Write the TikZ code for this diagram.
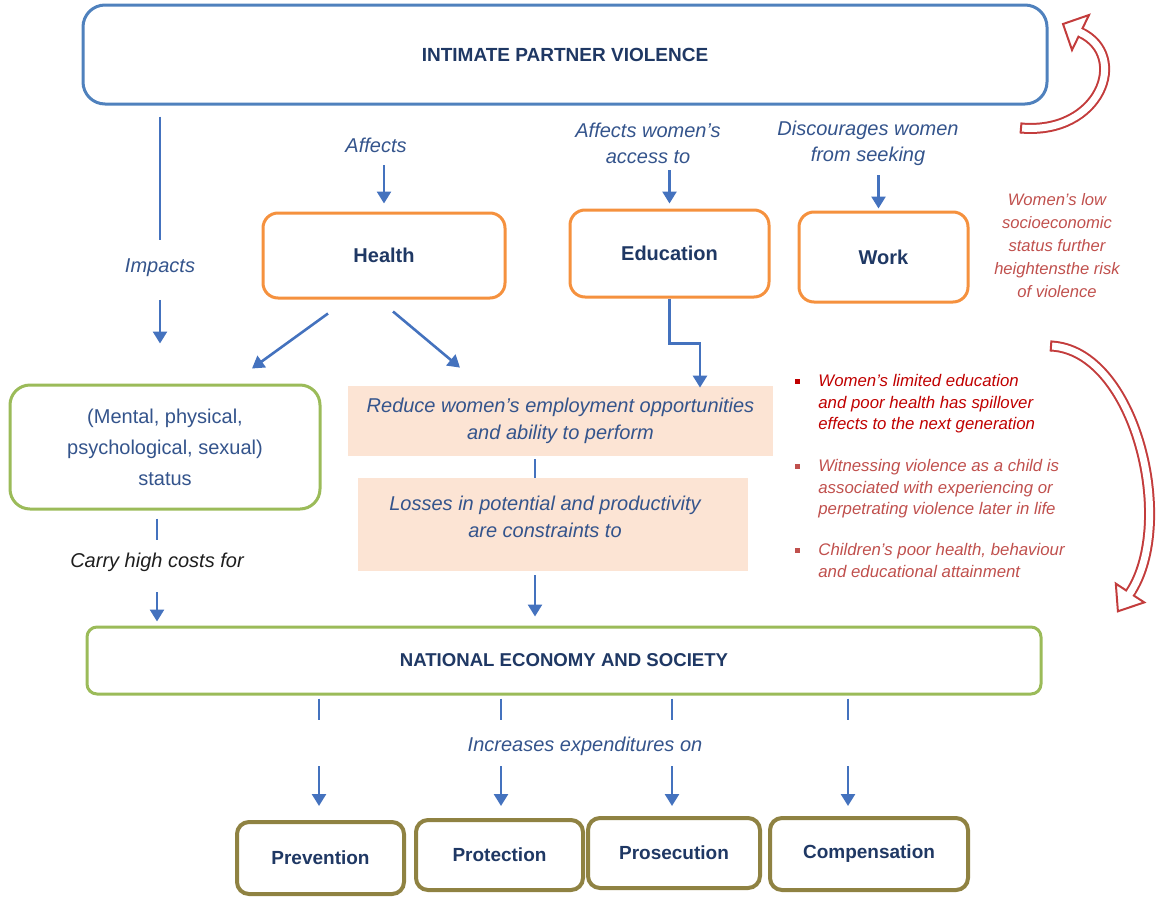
\documentclass[tikz,border=0pt]{standalone}
\usepackage{fontspec}
\setmainfont{Liberation Sans}
\usetikzlibrary{arrows.meta,calc}
\definecolor{ipvblue}{RGB}{79,129,189}
\definecolor{arrowblue}{RGB}{68,114,190}
\definecolor{navy}{RGB}{31,56,100}
\definecolor{lblblue}{RGB}{52,84,140}
\definecolor{boxorange}{RGB}{245,145,62}
\definecolor{boxgreen}{RGB}{155,187,89}
\definecolor{boxolive}{RGB}{143,130,66}
\definecolor{peach}{RGB}{252,228,212}
\definecolor{darkred}{RGB}{192,0,0}
\definecolor{ltred}{RGB}{192,80,77}
\definecolor{arrred}{RGB}{195,60,60}
\newcommand{\fsz}[2]{\fontsize{#1}{#2}\selectfont}
\begin{document}
\begin{tikzpicture}[x=0.5pt,y=-0.5pt,
  obox/.style={draw=boxorange, line width=1.5pt, rounded corners=7.5pt, fill=white,
    font=\fsz{10}{12}\bfseries, text=navy, inner sep=0pt},
  gbox/.style={draw=boxgreen, line width=1.5pt, fill=white, inner sep=0pt},
  pbox/.style={fill=peach, inner sep=0pt},
  ybox/.style={draw=boxolive, line width=2pt, rounded corners=6pt, fill=white,
    font=\fsz{9.5}{11}\bfseries, text=navy, inner sep=0pt},
  lbl/.style={font=\fsz{10}{13}\itshape, text=lblblue, inner sep=0pt, align=center},
  redtxt/.style={font=\fsz{8.3}{11.5}\itshape, text=ltred, inner sep=0pt, align=center},
  bullettxt/.style={font=\fsz{8.4}{10.75}\itshape, inner sep=0pt, align=left, anchor=north west},
  conn/.style={draw=arrowblue, line width=1.3pt},
  arr/.style={conn, -{Triangle[length=6pt,width=7pt]}},
  redarrow/.style={draw=arrred, line width=1pt, double=white, double distance=3.5pt},
  arrhead/.style={draw=arrred, line width=1pt, fill=white, line join=miter},
]
\useasboundingbox (0,0) rectangle (1162,916);

% ---- boxes ----
\node[draw=ipvblue, line width=1.5pt, rounded corners=11pt, fill=white, inner sep=0pt,
  minimum width=482pt, minimum height=49.5pt, font=\fsz{9.5}{11}\bfseries, text=navy]
  (ipv) at (565,54.5) {INTIMATE PARTNER VIOLENCE};

\node[obox, minimum width=121pt, minimum height=42.5pt] (health) at (384,255.5) {Health};
\node[obox, minimum width=99.5pt, minimum height=43.5pt] (education) at (669.5,253.5) {Education};
\node[obox, minimum width=84.5pt, minimum height=45pt] (work) at (883.5,257) {Work};

\node[gbox, rounded corners=10pt, minimum width=155pt, minimum height=62pt,
  font=\fsz{10}{15.5}, text=lblblue, align=center]
  (status) at (165,447) {(Mental, physical,\\psychological, sexual)\\status};

\node[pbox, minimum width=212.5pt, minimum height=35pt, font=\fsz{10}{13.5}\itshape,
  text=lblblue, align=center] (peach1) at (560.5,421)
  {Reduce women’s employment opportunities\\and ability to perform};
\node[pbox, minimum width=195pt, minimum height=46.5pt] (peach2) at (553,524.5) {};
\node[lbl, font=\fsz{10}{13.5}\itshape] (peach2txt) at (545,516.5)
  {Losses in potential and productivity\\are constraints to};

\node[gbox, rounded corners=5pt, minimum width=477pt, minimum height=33.5pt,
  font=\fsz{9.3}{11}\bfseries, text=navy] (national) at (564,660.5)
  {NATIONAL ECONOMY AND SOCIETY};

\node[ybox, minimum width=83.5pt, minimum height=36pt] (prevention) at (320.5,858) {Prevention};
\node[ybox, minimum width=83.5pt, minimum height=35pt] (protection) at (499.5,855) {Protection};
\node[ybox, minimum width=86pt, minimum height=35pt] (prosecution) at (674,853) {Prosecution};
\node[ybox, minimum width=99pt, minimum height=36pt] (compensation) at (869,854) {Compensation};

% ---- labels ----
\node[lbl] (impacts) at (160,268) {Impacts};
\node[lbl] (affects) at (376,145) {Affects};
\node[lbl] (affedu) at (648,143) {Affects women’s\\access to};
\node[lbl] (discour) at (868,143) {Discourages women\\from seeking};
\node[lbl, text={rgb,255:red,30;green,30;blue,30}] (carry) at (157,562) {Carry high costs for};
\node[lbl] (incr) at (585,746) {Increases expenditures on};

\node[redtxt] (risk) at (1057,246)
  {Women’s low\\socioeconomic\\status further\\heightensthe risk\\of violence};

\fill[darkred] (794.5,378.5) rectangle (799.5,383.5);
\node[bullettxt, text=darkred] (bul1) at (818,374)
  {Women’s limited education\\and poor health has spillover\\effects to the next generation};
\fill[ltred] (794.5,463.5) rectangle (799.5,468.5);
\node[bullettxt, text=ltred] (bul2) at (818,459)
  {Witnessing violence as a child is\\associated with experiencing or\\perpetrating violence later in life};
\fill[ltred] (794.5,547.5) rectangle (799.5,552.5);
\node[bullettxt, text=ltred] (bul3) at (818,543)
  {Children’s poor health, behaviour\\and educational attainment};

% ---- connectors ----
\draw[conn, shorten <=5.5pt, shorten >=9.5pt] (ipv.south -| impacts.north) -- (impacts.north);
\draw[arr, shorten <=11.3pt, shorten >=20pt] (impacts.south) -- (impacts.south |- status.north);
\draw[arr, shorten <=6.3pt, shorten >=4pt] (health.north |- affects.south) -- (health.north);
\draw[arr, shorten <=3.3pt, shorten >=2.5pt] (education.north |- affedu.south) -- (education.north);
\draw[arr, shorten <=4.8pt, shorten >=1pt] ([xshift=-2.5pt]work.north |- discour.south) -- ([xshift=-2.5pt]work.north);
\draw[arr] ([xshift=-28pt,yshift=-7pt]health.south) -- ([xshift=43.5pt,yshift=7.5pt]status.north);
\draw[arr] ([xshift=4.5pt,yshift=-6pt]health.south) -- ([xshift=-50.25pt,yshift=9pt]peach1.north);
\draw[arr] (education.south) -- ++(0,-22.5pt) -| ([xshift=69.75pt,yshift=-1pt]peach1.north);
\draw[conn, shorten <=4pt, shorten >=6.3pt] (carry.north |- status.south) -- (carry.north);
\draw[arr, shorten <=10.3pt, shorten >=2pt] (carry.south) -- (carry.south |- national.north);
\draw[conn, shorten <=1.5pt] ([xshift=-9pt]peach2.north |- peach1.south) -- ([xshift=-9pt]peach2.north);
\draw[arr, shorten <=2pt, shorten >=4.5pt] ([xshift=-9pt]peach2.south) -- ([xshift=-9pt]peach2.south |- national.north);

\draw[conn, shorten <=1.5pt] ([xshift=-0.75pt]prevention.north |- national.south) -- ++(0,-12pt);
\draw[conn, shorten <=1.5pt] ([xshift=0.75pt]protection.north |- national.south) -- ++(0,-12pt);
\draw[conn, shorten <=1.5pt] ([xshift=-1pt]prosecution.north |- national.south) -- ++(0,-12pt);
\draw[conn, shorten <=1.5pt] ([xshift=-10.5pt]compensation.north |- national.south) -- ++(0,-12pt);
\draw[arr] ([xshift=-0.75pt,yshift=27pt]prevention.north) -- ([xshift=-0.75pt,yshift=7pt]prevention.north);
\draw[arr] ([xshift=0.75pt,yshift=26pt]protection.north) -- ([xshift=0.75pt,yshift=6pt]protection.north);
\draw[arr] ([xshift=-1pt,yshift=25pt]prosecution.north) -- ([xshift=-1pt,yshift=5pt]prosecution.north);
\draw[arr] ([xshift=-10.5pt,yshift=25pt]compensation.north) -- ([xshift=-10.5pt,yshift=5pt]compensation.north);

% ---- red hollow curved arrows ----
\draw[redarrow] (1021,128) .. controls (1100,135) and (1130,56) .. (1080.5,32.5);
\draw[arrhead] (1089,15) -- (1063,24) -- (1072,50) -- cycle;
\draw[white, line width=3.5pt] (1083.2,33.8) -- (1077.8,31.2);
\draw[arrred, line width=1pt] (1021.5,122.5) -- (1020.5,133.5);

\draw[redarrow] (1051,346) .. controls (1135,350) and (1177,522) .. (1130,593);
\draw[arrhead] (1115.8,583.6) -- (1117.9,611.3) -- (1144.2,602.4) -- cycle;
\draw[white, line width=3.5pt] (1131.7,590.5) -- (1128.3,595.5);
\draw[arrred, line width=1pt] (1051.4,340.5) -- (1050.6,351.5);
\end{tikzpicture}
\end{document}
